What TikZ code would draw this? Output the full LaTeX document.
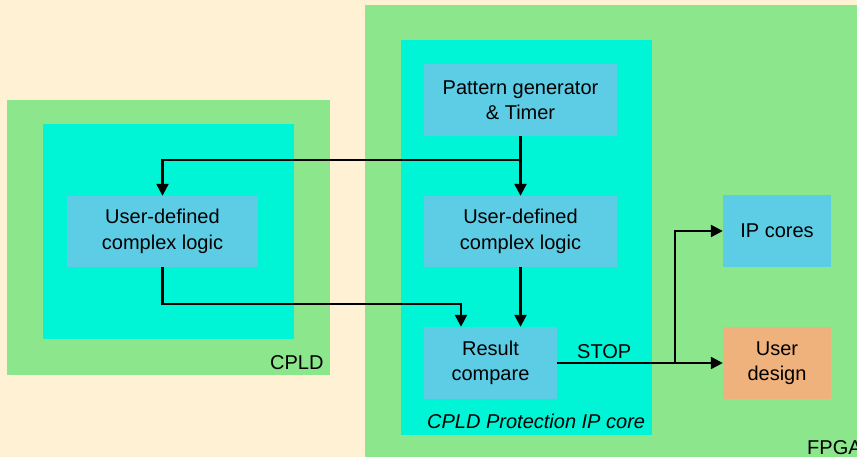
\documentclass[tikz,border=0pt]{standalone}
\usepackage{fontspec}
\setmainfont{Liberation Sans}
\usetikzlibrary{arrows.meta,calc}
\definecolor{cream}{HTML}{FFF1D3}
\definecolor{lgreen}{HTML}{8CE68C}
\definecolor{aqua}{HTML}{00F5D6}
\definecolor{boxblue}{HTML}{5DCDE6}
\definecolor{boxorange}{HTML}{F0B27C}
\tikzset{
  region/.style={draw=none, inner sep=0pt},
  block/.style={fill=boxblue, draw=none, inner sep=0pt, align=center, text=black,
     font=\fontsize{20}{25.5}\selectfont},
  lbl/.style={inner sep=0pt, text=black, font=\fontsize{20}{25.5}\selectfont},
  arr/.style={line width=2.4pt, -{Triangle[length=12pt,width=12pt]}},
  ln/.style={line width=2.4pt}
}
\begin{document}
\begin{tikzpicture}[x=1pt,y=-1pt]
\useasboundingbox (0,0) rectangle (857,457);
\clip (0,0) rectangle (857,457);
\fill[cream] (0,0) rectangle (857,457);
% CPLD
\fill[lgreen] (7,100) rectangle (330,375);
\fill[aqua] (43,124) rectangle (294,339);
% FPGA
\fill[lgreen] (365,5) rectangle (870,470);
\fill[aqua] (401,40) rectangle (652,435);
% blocks
\node[block, minimum width=191, minimum height=71] (ll) at (162.5,231.5) {User-defined\\complex logic};
\node[block, minimum width=193, minimum height=72] (pg) at (520.5,100) {Pattern generator\\\& Timer};
\node[block, minimum width=193, minimum height=71] (ml) at (520.5,231.5) {User-defined\\complex logic};
\node[block, minimum width=133, minimum height=72] (rc) at (490.5,363) {Result\\compare};
\node[block, minimum width=108, minimum height=72] (ip) at (777,231) {IP cores};
\node[block, fill=boxorange, minimum width=108, minimum height=72] (ud) at (777,363) {User\\design};
% labels
\node[lbl, anchor=base west] (lcpld) at (270,369) {CPLD};
\node[lbl, anchor=base west] (lfpga) at (807,454) {FPGA};
\node[lbl, anchor=base west, font=\fontsize{20}{25.5}\selectfont\itshape] (lcore) at (427,428) {CPLD Protection IP core};
\node[lbl, anchor=base west] (lstop) at (577,358) {STOP};
% connectors
\coordinate (b1) at (520.5,160);
\coordinate (b2) at (461,304);
\coordinate (b3) at (675,363);
\draw[arr] (pg.south) -- (ml.north);
\draw[arr] (b1) -| (ll.north);
\draw[arr] (ll.south) |- (b2) -- (b2 |- rc.north);
\draw[arr] (ml.south) -- (ml.south |- rc.north);
\draw[arr] (rc.east) -- (ud.west);
\draw[arr] (b3) |- (ip.west);
\end{tikzpicture}
\end{document}
